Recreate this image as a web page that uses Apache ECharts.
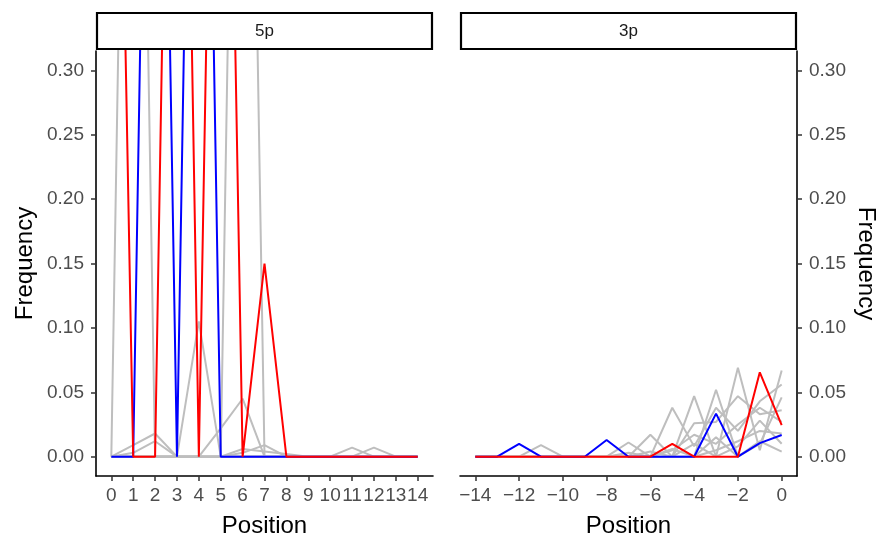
<!DOCTYPE html>
<html>
<head>
<meta charset="utf-8">
<script src="https://cdn.jsdelivr.net/npm/echarts@6/dist/echarts.min.js"></script>
<style>html,body{margin:0;padding:0;background:#fff}#c{width:884px;height:543px}</style>
</head>
<body>
<div id="c"></div>
<script>
// ---- data ----
const pos5p = [0,1,2,3,4,5,6,7,8,9,10,11,12,13,14];
const pos3p = [-14,-13,-12,-11,-10,-9,-8,-7,-6,-5,-4,-3,-2,-1,0];
const xTicks5p = [0,1,2,3,4,5,6,7,8,9,10,11,12,13,14];
const xTicks3p = [-14,-12,-10,-8,-6,-4,-2,0];
const yTicks = [0,0.05,0.10,0.15,0.20,0.25,0.30];

// 5p panel
const red5p  = [0.90,0,0,1.00,0,0.95,0,0.15,0,0,0,0,0,0,0];
const blue5p = [0,0,1.00,0,1.00,0,0,0,0,0,0,0,0,0,0];
const gray5p_a = [0,1.00,0,0,0,0,0,0,0,0,0,0,0,0,0];
const gray5p_b = [0,0.009,0.018,0,0,0,0,0,0,0,0,0,0,0,0];
const gray5p_c = [0,0.003,0.012,0,0,0,0,0,0,0,0,0,0,0,0];
const gray5p_d = [0,0,0,0,0.105,0,0,0,0,0,0,0,0,0,0];
const gray5p_e = [0,0,0,0,0,0,1.00,0,0,0,0,0,0,0,0];
const gray5p_f = [0,0,0,0,0,0.022,0.045,0,0,0,0,0,0,0,0];
const gray5p_g = [0,0,0,0,0,0,0.003,0.009,0,0,0,0,0,0,0];
const gray5p_h = [0,0,0,0,0,0,0.006,0.004,0.002,0,0,0,0,0,0];
const gray5p_i = [0,0,0,0,0,0,0,0,0,0,0,0.007,0,0,0];
const gray5p_j = [0,0,0,0,0,0,0,0,0,0,0,0,0.007,0,0];

// 3p panel
const red3p  = [0,0,0,0,0,0,0,0,0,0.010,0,0,0,0.0655,0.0245];
const blue3p = [0,0,0.010,0,0,0,0.013,0,0,0,0,0.0334,0,0.0105,0.0168];
const gray3p_a = [0,0,0,0.009,0,0,0,0.011,0,0,0,0.052,0,0.010,0.046];
const gray3p_b = [0,0,0,0,0,0,0,0,0.017,0,0.047,0,0.069,0.005,0.067];
const gray3p_c = [0,0,0,0,0,0,0,0,0,0.038,0.008,0.038,0.020,0.043,0.056];
const gray3p_d = [0,0,0,0,0,0,0,0,0,0,0.026,0.027,0.047,0.033,0.036];
const gray3p_e = [0,0,0,0,0,0,0,0,0,0.005,0.017,0.010,0.025,0.038,0.027];
const gray3p_f = [0,0,0,0,0,0,0,0,0,0,0,0.005,0.012,0.020,0.018];
const gray3p_g = [0,0,0,0,0,0,0,0,0.004,0,0.010,0,0.008,0.028,0.010];
const gray3p_h = [0,0,0,0,0,0,0,0.003,0,0.006,0,0.015,0,0.012,0.004];

// ---- chart ----
const FONT = '"Liberation Sans", Arial, sans-serif';
const GRAY = '#BEBEBE';
function pairs(xs, ys){ return xs.map((x,i)=>[x, ys[i]]); }
function mkSeries(xs, ys, color, idx, z){
  return {type:'line', xAxisIndex:idx, yAxisIndex:idx, data:pairs(xs,ys),
    showSymbol:false, symbol:'none', clip:true, z:z, silent:true,
    lineStyle:{color:color, width:2}};
}
const series = [];
[gray5p_a,gray5p_b,gray5p_c,gray5p_d,gray5p_e,gray5p_f,gray5p_g,gray5p_h,gray5p_i,gray5p_j]
  .forEach(a=>series.push(mkSeries(pos5p,a,GRAY,0,2)));
series.push(mkSeries(pos5p,blue5p,'#0000FF',0,3));
series.push(mkSeries(pos5p,red5p,'#FF0000',0,4));
[gray3p_a,gray3p_b,gray3p_c,gray3p_d,gray3p_e,gray3p_f,gray3p_g,gray3p_h]
  .forEach(a=>series.push(mkSeries(pos3p,a,GRAY,1,2)));
series.push(mkSeries(pos3p,blue3p,'#0000FF',1,3));
series.push(mkSeries(pos3p,red3p,'#FF0000',1,4));

const axisLine = {show:true, onZero:false, lineStyle:{color:'#000', width:1.6}};
const tickStyle = {color:'#333', width:1.5};
const lblStyle = {color:'#4D4D4D', fontSize:19, fontFamily:FONT};
const nameStyle = {color:'#000', fontSize:24, fontFamily:FONT};
const minus = v => (v<0 ? '\u2212'+Math.abs(v) : String(v));

const option = {
  animation:false,
  backgroundColor:'#fff',
  grid:[
    {left:96, top:51, width:337, height:430},
    {left:460, top:51, width:337, height:430}
  ],
  xAxis:[
    {type:'value', gridIndex:0, min:-0.7, max:14.7, position:'bottom',
     axisLine:axisLine, splitLine:{show:false},
     axisTick:{show:true, length:5, lineStyle:tickStyle, customValues:xTicks5p},
     axisLabel:Object.assign({margin:10, customValues:xTicks5p, formatter:minus}, lblStyle),
     name:'Position', nameLocation:'middle', nameGap:38, nameTextStyle:nameStyle},
    {type:'value', gridIndex:1, min:-14.7, max:0.7, position:'bottom',
     axisLine:axisLine, splitLine:{show:false},
     axisTick:{show:true, length:5, lineStyle:tickStyle, customValues:xTicks3p},
     axisLabel:Object.assign({margin:10, customValues:xTicks3p, formatter:minus}, lblStyle),
     name:'Position', nameLocation:'middle', nameGap:38, nameTextStyle:nameStyle}
  ],
  yAxis:[
    {type:'value', gridIndex:0, min:-0.015, max:0.315, position:'left',
     axisLine:axisLine, splitLine:{show:false},
     axisTick:{show:true, length:5, lineStyle:tickStyle, customValues:yTicks},
     axisLabel:Object.assign({margin:12, customValues:yTicks, formatter:v=>v.toFixed(2)}, lblStyle),
     name:'Frequency', nameLocation:'middle', nameGap:59, nameRotate:90, nameTextStyle:nameStyle},
    {type:'value', gridIndex:1, min:-0.015, max:0.315, position:'right',
     axisLine:axisLine, splitLine:{show:false},
     axisTick:{show:true, length:5, lineStyle:tickStyle, customValues:yTicks},
     axisLabel:Object.assign({margin:12, customValues:yTicks, formatter:v=>v.toFixed(2)}, lblStyle),
     name:'Frequency', nameLocation:'middle', nameGap:57, nameRotate:-90, nameTextStyle:nameStyle}
  ],
  graphic:[
    {type:'rect', shape:{x:97, y:13, width:335, height:36}, style:{fill:'#fff', stroke:'#000', lineWidth:2.2}, z:10},
    {type:'text', x:264.5, y:31, style:{text:'5p', fill:'#1A1A1A', font:'17px '+FONT, align:'center', verticalAlign:'middle'}, z:11},
    {type:'rect', shape:{x:461, y:13, width:335, height:36}, style:{fill:'#fff', stroke:'#000', lineWidth:2.2}, z:10},
    {type:'text', x:628.5, y:31, style:{text:'3p', fill:'#1A1A1A', font:'17px '+FONT, align:'center', verticalAlign:'middle'}, z:11}
  ],
  series:series
};
const chart = echarts.init(document.getElementById('c'), null, {renderer:'canvas'});
chart.setOption(option);
</script>
</body>
</html>
